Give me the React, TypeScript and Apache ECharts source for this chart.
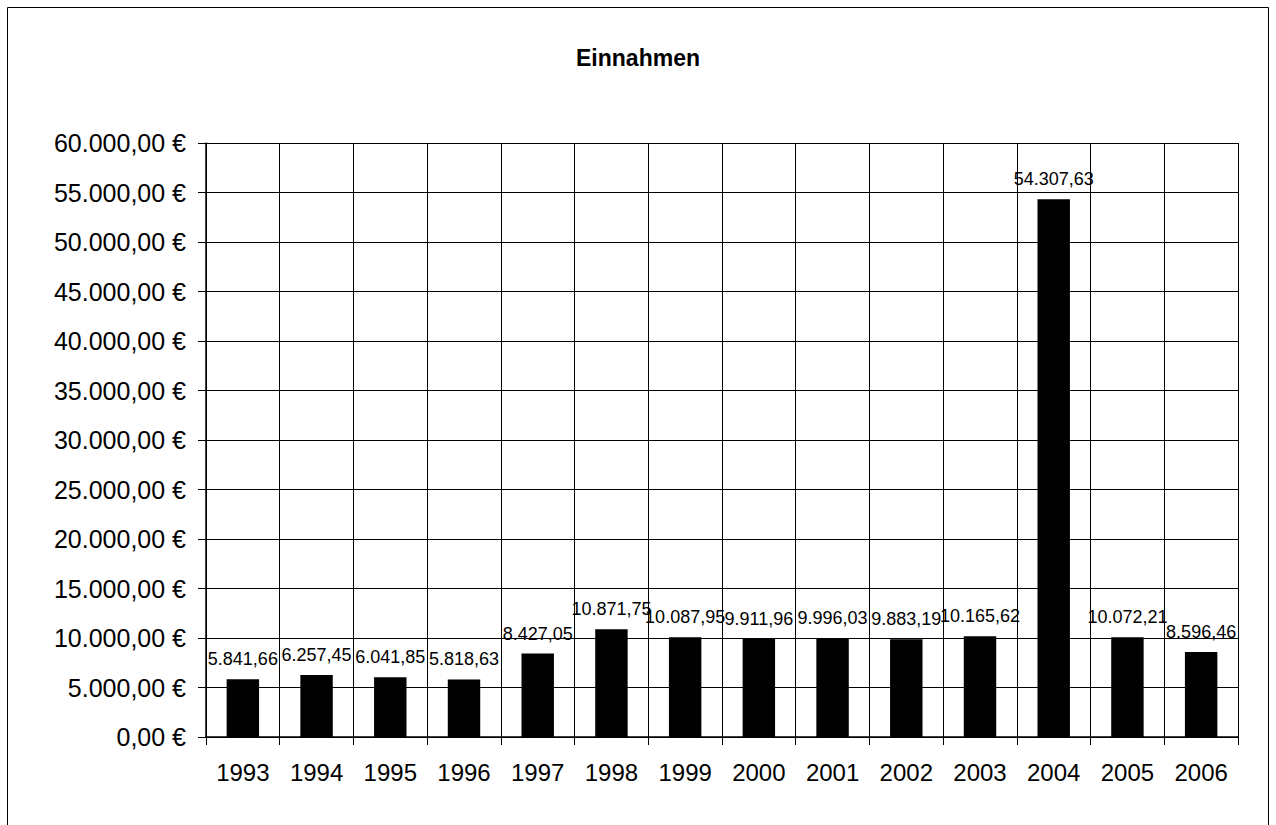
import React, { useEffect, useRef } from "react";
import * as echarts from "echarts";

const title = "Einnahmen";
const years = ["1993", "1994", "1995", "1996", "1997", "1998", "1999", "2000", "2001", "2002", "2003", "2004", "2005", "2006"];
const values = [5841.66, 6257.45, 6041.85, 5818.63, 8427.05, 10871.75, 10087.95, 9911.96, 9996.03, 9883.19, 10165.62, 54307.63, 10072.21, 8596.46];

const fmt = (v: number, decimals = 2) => {
  const fixed = v.toFixed(decimals);
  const [intPart, dec] = fixed.split(".");
  const withDots = intPart.replace(/\B(?=(\d{3})+(?!\d))/g, ".");
  return dec ? `${withDots},${dec}` : withDots;
};

export default function App() {
  const ref = useRef<HTMLDivElement>(null);
  useEffect(() => {
    if (!ref.current) return;
    const chart = echarts.init(ref.current, null, { renderer: "svg" });
    const font = "'Liberation Sans', Arial, sans-serif";
    chart.setOption({
      animation: false,
      backgroundColor: "#ffffff",
      title: {
        text: title,
        left: "center",
        top: 41,
        textStyle: { fontFamily: font, fontSize: 23, fontWeight: "bold", color: "#000" },
      },
      graphic: [
        {
          type: "rect",
          shape: { x: 7.5, y: 7.5, width: 1261, height: 840 },
          style: { fill: "none", stroke: "#000", lineWidth: 1 },
          silent: true,
        },
      ],
      grid: { left: 206, right: 38, top: 143, bottom: 88, containLabel: false },
      xAxis: {
        type: "category",
        data: years,
        boundaryGap: true,
        axisLine: { lineStyle: { color: "#000", width: 1.5 } },
        axisTick: { show: true, length: 8, lineStyle: { color: "#000" } },
        splitLine: { show: true, lineStyle: { color: "#000", width: 1 } },
        axisLabel: { fontFamily: font, fontSize: 24, color: "#000", margin: 23 },
      },
      yAxis: {
        type: "value",
        min: 0,
        max: 60000,
        interval: 5000,
        axisLine: { show: true, lineStyle: { color: "#000", width: 1.5 } },
        axisTick: { show: true, length: 8, lineStyle: { color: "#000" } },
        splitLine: { show: true, lineStyle: { color: "#000", width: 1 } },
        axisLabel: {
          fontFamily: font,
          fontSize: 25,
          color: "#000",
          margin: 20,
          formatter: (v: number) => `${fmt(v)} €`,
        },
      },
      series: [
        {
          type: "bar",
          data: values,
          barWidth: "44%",
          itemStyle: { color: "#000" },
          label: {
            show: true,
            position: "top",
            distance: 11,
            fontFamily: font,
            fontSize: 18,
            color: "#000",
            formatter: (p: any) => fmt(p.value),
          },
        },
      ],
    });
    return () => chart.dispose();
  }, []);
  return <div ref={ref} style={{ position: "fixed", left: 0, top: 0, width: 1276, height: 825 }} />;
}
